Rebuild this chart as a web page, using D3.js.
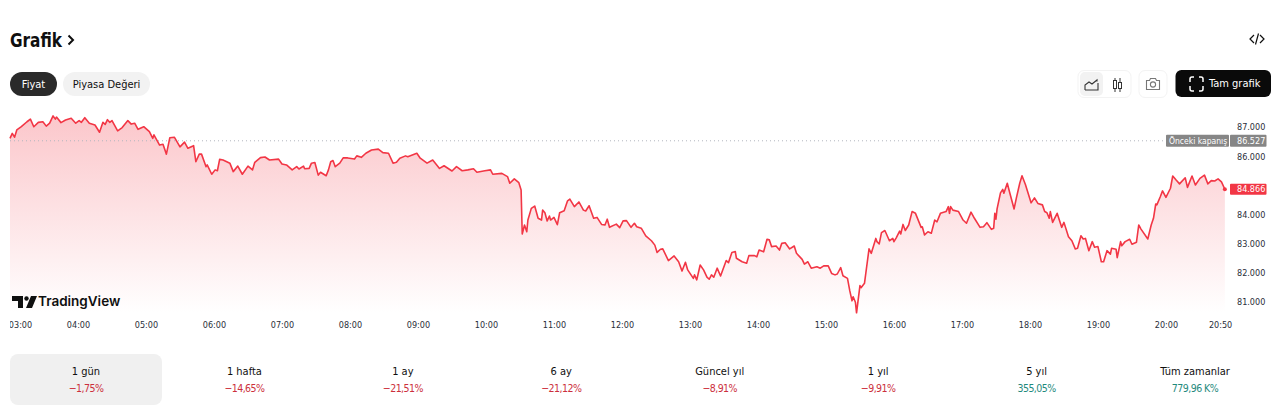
<!DOCTYPE html>
<html><head><meta charset="utf-8">
<script src="https://cdn.jsdelivr.net/npm/d3@7"></script>
<style>html,body{margin:0;padding:0;background:#fff;overflow:hidden}svg{display:block}
text{font-family:"DejaVu Sans Condensed","DejaVu Sans",sans-serif;font-stretch:condensed}
.ax text{font-size:9px;fill:#2a2e39}</style></head><body>
<script>
// minutes after 03:00
const minutes=[0,2,4,6,10,15,18,21,25,29,32,35,38,40,41,45,49,54,58,61,63,66,70,75,79,82,84,86,88,90,95,99,104,107,110,113,118,123,126,127,132,135,138,141,145,150,154,157,162,164,167,169,173,174,178,181,183,185,188,194,197,201,205,210,214,216,221,225,229,237,240,244,249,253,255,259,260,264,266,269,272,274,279,281,283,285,287,291,294,298,304,306,310,314,319,325,329,334,338,341,344,349,351,359,362,368,373,379,383,390,394,399,404,409,412,419,424,426,434,439,441,445,449,451,452,454,456,457,460,463,466,469,470,472,474,476,477,480,483,485,489,492,494,498,502,506,508,511,515,518,522,525,527,529,535,538,541,544,548,551,553,557,561,566,569,571,574,576,581,586,590,593,596,598,603,604,606,609,612,615,617,619,621,624,627,632,634,637,640,641,646,650,652,657,659,661,665,668,670,672,676,679,681,684,688,692,694,699,701,704,707,712,715,718,722,725,728,730,733,735,739,741,743,744,746,747,750,751,754,758,760,764,765,767,769,772,776,779,780,782,785,786,788,790,793,796,799,804,805,807,810,813,816,818,821,826,828,829,830,832,837,841,844,848,851,856,859,862,866,868,869,870,871,874,876,877,880,882,886,888,891,893,896,901,904,907,911,913,915,917,918,920,924,928,930,934,937,940,942,945,947,949,952,955,957,960,963,965,968,971,972,976,977,980,981,984,988,990,994,996,998,1004,1007,1009,1011,1012,1015,1017,1020,1024,1026,1029,1032,1037,1039,1043,1046,1050,1054,1057,1060,1063,1066,1069,1072];
const prices=[86.61,86.78,86.65,86.90,87.01,87.18,87.27,87.01,87.16,87.18,87.03,87.13,87.38,87.27,87.34,87.15,87.24,87.30,87.13,87.22,87.16,87.32,87.13,87.07,86.82,87.16,87.09,87.25,87.16,87.22,86.87,86.98,87.22,87.10,87.13,86.92,87.01,86.84,86.61,86.73,86.38,86.41,86.07,86.63,86.65,86.32,86.48,86.27,86.36,85.81,86.07,86.07,85.64,85.70,85.38,85.53,85.50,85.89,85.87,85.76,85.47,85.66,85.38,85.66,85.53,85.79,85.95,85.97,85.87,85.90,85.73,85.70,85.53,85.64,85.56,85.66,85.57,85.58,85.76,85.78,85.35,85.45,85.33,85.53,85.81,85.85,85.64,85.76,85.94,85.94,85.90,86.01,85.96,86.10,86.21,86.24,86.12,86.10,85.76,85.79,85.93,86.01,85.98,86.10,85.93,85.76,85.87,85.58,85.67,85.49,85.64,85.50,85.53,85.57,85.45,85.50,85.53,85.38,85.41,85.30,85.07,85.22,85.09,84.84,83.33,83.64,83.41,83.81,84.21,84.29,83.87,83.81,84.15,84.06,83.78,83.95,83.81,83.90,83.65,84.06,84.13,84.47,84.53,84.27,84.43,84.15,84.12,84.30,83.87,83.90,83.66,83.64,83.84,83.56,83.67,83.55,83.78,83.79,83.56,83.70,83.58,83.53,83.27,83.10,82.95,82.70,82.81,82.82,82.42,82.58,82.38,82.06,82.36,82.10,81.81,81.93,81.76,82.27,82.10,81.85,81.78,81.93,81.85,82.16,81.89,82.42,82.35,82.70,82.73,82.50,82.38,82.33,82.59,82.59,82.55,82.78,82.72,83.15,83.13,82.90,82.92,82.78,83.01,83.03,82.82,82.92,82.67,82.46,82.30,82.38,82.16,82.21,82.16,82.24,82.24,81.98,81.93,81.96,82.18,81.90,81.81,81.39,81.04,81.18,80.99,80.63,81.56,81.49,81.64,82.82,82.67,83.18,83.07,82.99,83.38,83.45,83.10,83.18,83.07,83.20,83.43,83.33,83.66,83.45,83.64,84.10,84.04,83.56,83.58,83.30,83.41,83.36,83.81,83.75,84.04,84.10,84.27,84.04,84.27,84.15,84.10,83.81,83.70,84.08,83.87,83.56,83.58,83.72,83.49,83.53,84.04,83.84,84.19,84.74,84.86,84.73,85.07,84.77,84.19,84.56,85.07,85.33,85.03,84.40,84.57,84.38,84.33,84.10,84.06,83.87,84.10,83.73,84.04,83.56,83.73,83.24,83.10,82.82,82.84,83.27,83.16,83.18,82.76,83.07,82.88,82.90,82.38,82.38,82.76,82.64,82.84,82.81,82.52,83.07,82.93,83.07,83.15,82.98,83.05,83.64,83.50,83.16,83.64,83.87,84.36,84.33,84.61,84.81,84.59,84.90,85.32,85.18,85.05,85.26,84.93,85.32,85.01,85.24,85.35,85.05,85.16,85.15,85.22,85.12,84.866];
const priceTicks=[81,82,83,84,86,87];
const hourTicks=[0,60,120,180,240,300,360,420,480,540,600,660,720,780,840,900,960,1020,1070];
const hourLabels=["03:00","04:00","05:00","06:00","07:00","08:00","09:00","10:00","11:00","12:00","13:00","14:00","15:00","16:00","17:00","18:00","19:00","20:00","20:50"];
const prevClose=86.527, lastPrice=84.866;
const periods=["1 gün","1 hafta","1 ay","6 ay","Güncel yıl","1 yıl","5 yıl","Tüm zamanlar"];
const changes=["−1,75%","−14,65%","−21,51%","−21,12%","−8,91%","−9,91%","355,05%","779,96 K%"];
const changeUp=[false,false,false,false,false,false,true,true];

const W=1280,H=407;
const svg=d3.select("body").append("svg").attr("width",W).attr("height",H);
const L=10,R=1226,B=313;
const x=d3.scaleLinear().domain([0,1073]).range([L,R]);
const y=d3.scaleLinear().domain([81,87]).range([302,127]);
const RED="#f23645";
const defs=svg.append("defs");
const g=defs.append("linearGradient").attr("id","fade").attr("gradientUnits","userSpaceOnUse").attr("x1",0).attr("x2",0).attr("y1",116).attr("y2",B);
g.append("stop").attr("offset",0).attr("stop-color",RED).attr("stop-opacity",.28);
g.append("stop").attr("offset",1).attr("stop-color",RED).attr("stop-opacity",0);
defs.append("clipPath").attr("id","xclip").append("rect").attr("x",L).attr("y",B).attr("width",W-L).attr("height",30);

const series=d3.range(minutes.length).map(i=>({m:minutes[i],p:prices[i]}));
svg.append("path").datum(series).attr("fill","url(#fade)")
 .attr("d",d3.area().x(d=>x(d.m)).y0(B).y1(d=>y(d.p)));
svg.append("line").attr("x1",L).attr("x2",1166).attr("y1",y(prevClose)).attr("y2",y(prevClose))
 .attr("stroke","#b2b5be").attr("stroke-width",1).attr("stroke-dasharray","1 3");
svg.append("path").datum(series).attr("fill","none").attr("stroke",RED).attr("stroke-width",1.6).attr("stroke-linejoin","round")
 .attr("d",d3.line().x(d=>x(d.m)).y(d=>y(d.p)));
svg.append("circle").attr("cx",x(1072)).attr("cy",y(lastPrice)).attr("r",2).attr("fill",RED);

// axes
const ya=svg.append("g").attr("class","ax").attr("transform",`translate(1237,0)`)
 .call(d3.axisRight(y).tickValues(priceTicks).tickSize(0).tickPadding(0).tickFormat(d3.format(".3f")));
ya.select(".domain").remove();
const xa=svg.append("g").attr("clip-path","url(#xclip)").append("g").attr("class","ax").attr("transform",`translate(0,${B+8.500})`)
 .call(d3.axisBottom(x).tickValues(hourTicks).tickSize(0).tickPadding(0).tickFormat((d,i)=>hourLabels[i]));
xa.select(".domain").remove();
xa.selectAll("text").filter((d,i)=>i===0).attr("dx",10);
xa.selectAll("text").filter((d,i)=>i===hourTicks.length-1).attr("dx",-2.5);

// price tags
function tag(x0,w,cy,h,fill,t,tx,col,size){
 svg.append("rect").attr("x",x0).attr("y",cy-h/2).attr("width",w).attr("height",h).attr("fill",fill).attr("rx",1);
 svg.append("text").attr("x",tx).attr("y",cy+3).attr("font-size",size||9).attr("fill",col).text(t);
}
tag(1166,63,y(prevClose),12,"#868686","Önceki kapanış",1169,"#fff",8.5);
tag(1230,36.5,y(prevClose),12,"#868686",d3.format(".3f")(prevClose),1237,"#fff");
tag(1230,36.5,y(lastPrice),11,RED,d3.format(".3f")(lastPrice),1237,"#fff");

// header
svg.append("text").attr("x",10).attr("y",47).attr("font-size",20).attr("font-weight",700).attr("fill","#0f0f0f").attr("textLength",52).attr("lengthAdjust","spacingAndGlyphs").text("Grafik");
svg.append("path").attr("d","M68.5 35.5l4.5 4.5-4.5 4.5").attr("fill","none").attr("stroke","#0f0f0f").attr("stroke-width",2);
svg.append("path").attr("d","M1254 35l-4 4 4 4M1260 35l4 4-4 4M1258.5 33.5l-3 11").attr("fill","none").attr("stroke","#0f0f0f").attr("stroke-width",1.2);
svg.append("rect").attr("x",10).attr("y",72).attr("width",47).attr("height",24).attr("rx",12).attr("fill","#2a2a2a");
svg.append("text").attr("x",33.5).attr("y",88).attr("text-anchor","middle").attr("font-size",11).attr("fill","#fff").text("Fiyat");
svg.append("rect").attr("x",63).attr("y",72).attr("width",87).attr("height",24).attr("rx",12).attr("fill","#f2f2f2");
svg.append("text").attr("x",106.5).attr("y",88).attr("text-anchor","middle").attr("font-size",11).attr("fill","#0f0f0f").text("Piyasa Değeri");

// toolbar
svg.append("rect").attr("x",1078).attr("y",70.5).attr("width",53).attr("height",27).attr("rx",6).attr("fill","#fff").attr("stroke","#f3f3f3");
svg.append("rect").attr("x",1080).attr("y",72).attr("width",23).attr("height",24).attr("rx",5).attr("fill","#f2f2f2");
svg.append("path").attr("d","M1085 90v-5l4-3 3 2 5-4v1.500M1085 90h13v-7").attr("fill","none").attr("stroke","#333").attr("stroke-width",1.1);
svg.append("path").attr("d","M1115 78v14M1120 78v14").attr("stroke","#333").attr("fill","none");
svg.append("rect").attr("x",1113.5).attr("y",80.500).attr("width",3).attr("height",8).attr("fill","#fff").attr("stroke","#333");
svg.append("rect").attr("x",1118.5).attr("y",82.500).attr("width",3).attr("height",6).attr("fill","#fff").attr("stroke","#333");
svg.append("rect").attr("x",1139).attr("y",70.5).attr("width",28).attr("height",27).attr("rx",6).attr("fill","#fff").attr("stroke","#f3f3f3");
svg.append("path").attr("d","M1146.500 80.500h3l1-2h5l1 2h3v9h-13z").attr("fill","none").attr("stroke","#777").attr("stroke-width",1.1);
svg.append("circle").attr("cx",1153).attr("cy",84.5).attr("r",2.6).attr("fill","none").attr("stroke","#777").attr("stroke-width",1.1);
svg.append("rect").attr("x",1175.5).attr("y",70).attr("width",95.5).attr("height",27).attr("rx",6).attr("fill","#0a0a0a");
svg.append("path").attr("d","M1190 82v-3a2 2 0 0 1 2-2h2M1199 77h2a2 2 0 0 1 2 2v3M1203 86v3a2 2 0 0 1-2 2h-2M1194 91h-2a2 2 0 0 1-2-2v-3").attr("fill","none").attr("stroke","#fff").attr("stroke-width",1.5);
svg.append("text").attr("x",1209).attr("y",87).attr("font-size",11).attr("fill","#fff").text("Tam grafik");

// logo
svg.append("path").attr("d","M12 296h11v12h-5v-7h-6zM31 296h6l-5 12h-6z").attr("fill","#0f0f0f");
svg.append("circle").attr("cx",26.500).attr("cy",298.500).attr("r",2.2).attr("fill","#0f0f0f");
svg.append("text").attr("x",38).attr("y",306).attr("font-size",13.5).attr("font-weight",600).style("font-family","Inter,sans-serif").style("font-stretch","normal").attr("fill","#0f0f0f").text("TradingView");

// period tabs
const band=d3.scalePoint().domain(periods).range([86,1195]);
svg.append("rect").attr("x",10).attr("y",354).attr("width",152).attr("height",51).attr("rx",8).attr("fill","#f0f0f0");
svg.selectAll(".per").data(periods).join("text").attr("class","per").attr("x",d=>band(d)).attr("y",374.500)
 .attr("text-anchor","middle").attr("font-size",11).attr("fill","#0f0f0f").text(d=>d);
svg.selectAll(".chg").data(changes).join("text").attr("class","chg").attr("x",(d,i)=>band(periods[i])).attr("y",392)
 .attr("text-anchor","middle").attr("font-size",10.5).attr("letter-spacing",-0.55).attr("fill",(d,i)=>changeUp[i]?"#1f8a7d":"#cc2f3c").text(d=>d);
</script></body></html>
